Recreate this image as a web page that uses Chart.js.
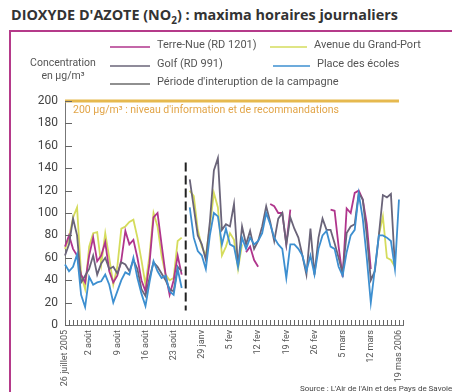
<!DOCTYPE html>
<html>
<head>
<meta charset="utf-8">
<script src="https://cdn.jsdelivr.net/npm/chart.js@4.4.0/dist/chart.umd.min.js"></script>
<style>
  body { margin: 0; background: #fff; }
  #wrap { position: relative; width: 452px; height: 392px; overflow: hidden; }
  #titre { position: absolute; left: 11px; top: 5px; font: bold 14.4px "Open Sans", sans-serif; color: #333; white-space: nowrap; }
  #titre sub { font-size: 10px; }
  #cadre { position: absolute; left: 9px; top: 30px; width: 460px; height: 400px; border: 2.5px solid #b53a8a; }
  canvas { position: absolute; left: 0; top: 0; }
</style>
</head>
<body>
<div id="wrap">
  <div id="titre">DIOXYDE D'AZOTE (NO<sub>2</sub>) : maxima horaires journaliers</div>
  <div id="cadre"></div>
  <canvas id="graph" width="452" height="392"></canvas>
</div>
<script>
// DONNÉES — maxima horaires journaliers NO2 (µg/m³)

// été 2005 : 26 juillet -> 24 août (30 jours)
const terreNueEte  = [70, 80, 68, 62, 45, 38, 62, 78, 57, 62, 74, 48, 38, 44, 58, 84, 72, 76, 60, 40, 30, 55, 96, 100, 72, 45, 27, 40, 62, 45];
const grandPortEte = [68, 78, 96, 105, 45, 32, 70, 82, 83, 54, 82, 60, 36, 52, 86, 88, 92, 94, 78, 58, 36, 62, 100, 88, 62, 45, 40, 42, 75, 78];
const golfEte      = [62, 72, 95, 80, 38, 44, 50, 62, 45, 55, 60, 50, 52, 46, 56, 54, 48, 58, 50, 32, 26, 42, 56, 52, 46, 40, 32, 30, 52, 48];
const ecolesEte    = [54, 48, 52, 63, 27, 16, 43, 36, 38, 39, 45, 36, 20, 30, 40, 47, 45, 60, 42, 28, 17, 38, 57, 48, 42, 44, 30, 27, 50, 33];

// hiver 2006 : 26 janvier -> 19 mars (53 jours)
const terreNueHiver = [null, null, null, null, null, null, null, null, null, null, null, null, null, null,
  65, 70, 58, 52, null, null, 108, 106, 100, 100, 72, 103, null, null, null, null, null, null, null, null, null,
  103, 102, 70, 43, 104, 100, 118, 120, 112, 90, 50, null, null, null, null, null, null, null];
const grandPortHiver = [120, 115, 85, 70, 62, 88, 118, 105, 62, 70, 82, 76, 50, 72,
  null, null, null, null, null, null, null, null, null, null, null, null, null, null, null, null, null,
  null, null, null, null, null, null, null, null, null, null, null, null, null, null, null, null,
  80, 97, 60, 58, 52, null];
const golfHiver = [130, 105, 80, 72, 58, 92, 138, 149, 85, 90, 88, 108, 52, 88, 72, 84, 68, 75, 88, 106,
  92, 75, 95, 100, 72, 96, 86, 78, 62, 45, 86, 45, 78, 95, 85, 85, 73, 60, 46, 82,
  88, 90, 118, 112, 80, 40, 48, 80, 116, 114, 117, 52, null];
const ecolesHiver = [105, 78, 66, 62, 50, 80, 100, 97, 72, 86, 72, 70, 52, 78, 68, 78, 72, 75, 82, 100,
  90, 78, 72, 68, 42, 72, 72, 68, 62, 48, 62, 45, 68, 80, 84, 70, 68, 52, 44, 65,
  80, 85, 117, 95, 60, 20, 50, 80, 80, 78, 75, 50, 112];

const nbJours = 85;                 // 30 jours été + 1 coupure + 53 jours hiver + 1
const jourCoupure = 30;
const coupureHaut = 145, coupureBas = 13;

const tickPos   = [0, 6, 13, 20, 27, 34, 41, 48, 55, 62, 69, 76, 83];
const tickTexte = ['26 juillet 2005', '2 août', '9 août', '16 août', '23 août', '29 janv', '5 fev',
                   '12 fev', '19 fev', '26 fev', '5 mars', '12 mars', '19 mas 2006'];

const seuil = 200;
const seuilTexte = '200 µg/m³ : niveau d\'information et de recommandations';

const jours = Array.from({ length: nbJours }, (_, i) => i);

const POLICE = '"Roboto", sans-serif';

// Décor : repères intérieurs, seuil, légende, titre d'axe, source
const decor = {
  id: 'decor',
  beforeDatasetsDraw(chart) {
    const { ctx, scales: { x, y }, chartArea } = chart;
    const py = y.getPixelForValue(seuil);
    ctx.save();
    ctx.strokeStyle = '#e6b94f';
    ctx.lineWidth = 3;
    ctx.beginPath();
    ctx.moveTo(chartArea.left, py);
    ctx.lineTo(x.getPixelForValue(83), py);
    ctx.stroke();
    ctx.fillStyle = '#e2a548';
    ctx.font = '10.5px ' + POLICE;
    ctx.textBaseline = 'alphabetic';
    ctx.fillText(seuilTexte, chartArea.left + 8, py + 12);
    ctx.restore();
  },
  afterDraw(chart) {
    const { ctx, scales: { x, y }, chartArea } = chart;
    ctx.save();
    ctx.setLineDash([]);
    ctx.strokeStyle = '#666';
    ctx.lineWidth = 1;
    ctx.beginPath();
    y.ticks.forEach(t => {
      const py = Math.round(y.getPixelForValue(t.value)) + 0.5;
      ctx.moveTo(chartArea.left, py);
      ctx.lineTo(chartArea.left + 7, py);
    });
    jours.forEach(i => {
      const px = Math.round(x.getPixelForValue(i)) + 0.5;
      ctx.moveTo(px, chartArea.bottom);
      ctx.lineTo(px, chartArea.bottom - 5);
    });
    ctx.stroke();

    // titre de l'axe
    ctx.fillStyle = '#555';
    ctx.font = '10.5px ' + POLICE;
    ctx.textAlign = 'center';
    ctx.fillText('Concentration', 63, 66);
    ctx.fillText('en µg/m³', 63, 79);

    // légende (traits pleins)
    const places = [
      { ds: 0, x: 110, y: 47, l: 40 },
      { ds: 1, x: 270, y: 47, l: 37 },
      { ds: 2, x: 110, y: 66, l: 40 },
      { ds: 3, x: 273, y: 66, l: 37 },
      { ds: 4, x: 110, y: 84, l: 40 }
    ];
    ctx.textAlign = 'left';
    ctx.textBaseline = 'middle';
    ctx.font = '11px ' + POLICE;
    places.forEach(p => {
      const d = chart.data.datasets[p.ds];
      ctx.setLineDash([]);
      ctx.strokeStyle = d.borderColor;
      ctx.lineWidth = p.ds === 4 ? 1.2 : 1.5;
      ctx.beginPath();
      ctx.moveTo(p.x, p.y);
      ctx.lineTo(p.x + p.l, p.y);
      ctx.stroke();
      ctx.fillStyle = '#555';
      ctx.fillText(d.label, p.x + p.l + 7, p.y - 2);
    });

    // source
    ctx.font = '8px ' + POLICE;
    ctx.fillStyle = '#444';
    ctx.textBaseline = 'alphabetic';
    ctx.fillText('Source : L\'Air de l\'Ain et des Pays de Savoie', 300, 391);
    ctx.restore();
  }
};

new Chart(document.getElementById('graph').getContext('2d'), {
  type: 'line',
  data: {
    labels: jours,
    datasets: [
      { label: 'Terre-Nue (RD 1201)', data: [...terreNueEte, null, ...terreNueHiver], borderColor: '#b0358c', order: 2 },
      { label: 'Avenue du Grand-Port', data: [...grandPortEte, null, ...grandPortHiver], borderColor: '#d5dc5c', order: 3 },
      { label: 'Golf (RD 991)', data: [...golfEte, null, ...golfHiver], borderColor: '#6a6479', order: 1 },
      { label: 'Place des écoles', data: [...ecolesEte, null, ...ecolesHiver], borderColor: '#3d8fd0', order: 0 },
      {
        label: 'Période d\'interuption de la campagne',
        data: [{ x: jourCoupure, y: coupureHaut }, { x: jourCoupure, y: coupureBas }],
        borderColor: '#222', borderWidth: 2, borderDash: [9, 4], order: 4
      }
    ]
  },
  options: {
    responsive: false,
    animation: false,
    layout: { padding: { top: 101, right: 49, left: 0, bottom: 0 } },
    elements: {
      point: { radius: 0 },
      line: { tension: 0, borderWidth: 1.8, spanGaps: false }
    },
    plugins: { legend: { display: false }, tooltip: { enabled: false } },
    scales: {
      x: {
        type: 'category',
        offset: false,
        afterFit: s => { s.height = 67; },
        grid: { display: true, drawOnChartArea: false, drawTicks: false },
        border: { color: '#777', width: 1 },
        ticks: {
          autoSkip: false, maxRotation: 90, minRotation: 90, padding: 5,
          color: '#555', font: { size: 9, family: POLICE },
          callback: (v, i) => { const k = tickPos.indexOf(i); return k < 0 ? '' : tickTexte[k]; }
        }
      },
      y: {
        min: 0, max: 200,
        afterFit: s => { s.width = 65; },
        grid: { display: true, drawOnChartArea: false, drawTicks: false },
        border: { color: '#777', width: 1 },
        ticks: { stepSize: 20, padding: 7, color: '#444', font: { size: 12, family: POLICE } }
      }
    }
  },
  plugins: [decor]
});
</script>
</body>
</html>
